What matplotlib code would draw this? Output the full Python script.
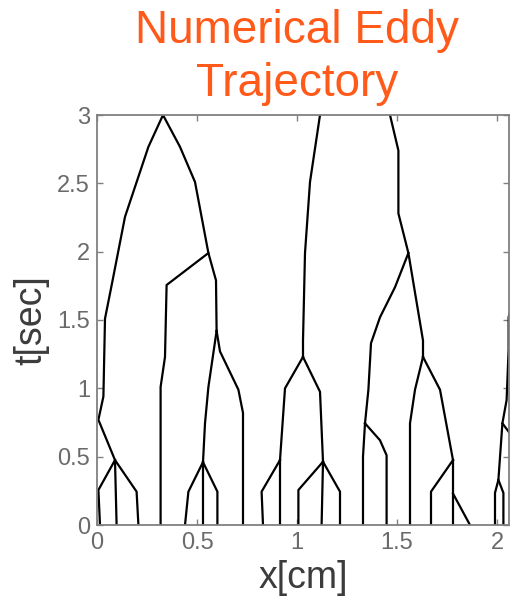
import matplotlib
matplotlib.use('Agg')
import matplotlib.pyplot as plt

plt.rcParams['font.family'] = ['Liberation Sans', 'DejaVu Sans']

# eddy paths, each as (x [cm], t [sec]) vertices; grouped by merger tree
tree_a = [
    [(0.207, 0), (0.198, 0.244), (0.09, 0.475), (0.007, 0.77), (0.032, 0.94),
     (0.04, 1.51), (0.078, 1.79), (0.14, 2.255), (0.257, 2.767), (0.33, 3.0)],
    [(0.015, 0), (0.007, 0.256), (0.09, 0.475)],
    [(0.098, 0), (0.09, 0.475)],
    [(0.33, 3.0), (0.415, 2.767), (0.49, 2.51), (0.557, 1.99), (0.595, 1.79), (0.598, 1.42)],
    [(0.318, 0), (0.318, 1.01), (0.34, 1.23), (0.348, 1.756), (0.557, 1.99)],
    [(0.598, 1.42), (0.557, 1.01), (0.54, 0.744), (0.53, 0.46)],
    [(0.598, 1.42), (0.615, 1.27), (0.707, 0.99), (0.73, 0.82), (0.73, 0)],
    [(0.44, 0), (0.457, 0.244), (0.53, 0.46)],
    [(0.53, 0), (0.53, 0.46)],
    [(0.602, 0), (0.602, 0.244), (0.53, 0.46)],
]

tree_b = [
    [(1.115, 3.0), (1.065, 2.51), (1.04, 1.99), (1.03, 1.35), (1.03, 1.23)],
    [(1.03, 1.23), (0.94, 1.0), (0.915, 0.475)],
    [(1.03, 1.23), (1.115, 0.975), (1.13, 0.463)],
    [(0.83, 0), (0.823, 0.244), (0.915, 0.475)],
    [(0.915, 0), (0.915, 0.475)],
    [(1.007, 0), (1.007, 0.256), (1.13, 0.463)],
    [(1.123, 0), (1.13, 0.463)],
    [(1.215, 0), (1.215, 0.244), (1.13, 0.463)],
]

tree_c = [
    [(1.465, 3.0), (1.507, 2.74), (1.507, 2.28), (1.557, 1.99), (1.63, 1.35), (1.63, 1.23)],
    [(1.557, 1.99), (1.49, 1.74), (1.415, 1.52), (1.37, 1.33), (1.357, 0.99), (1.34, 0.744)],
    [(1.33, 0), (1.33, 0.5), (1.34, 0.744)],
    [(1.34, 0.744), (1.415, 0.62), (1.448, 0.51), (1.448, 0)],
    [(1.63, 1.23), (1.59, 0.99), (1.565, 0.744), (1.565, 0)],
    [(1.63, 1.23), (1.715, 0.99), (1.78, 0.475)],
    [(1.67, 0), (1.67, 0.244), (1.78, 0.475)],
    [(1.78, 0), (1.78, 0.475)],
    [(1.865, 0), (1.78, 0.23)],
]

tree_d = [
    [(2.09, 1.7), (2.058, 1.52), (2.058, 1.28), (2.048, 0.914), (2.027, 0.744),
     (2.007, 0.33), (1.99, 0.235), (1.99, 0)],
    [(2.027, 0.744), (2.08, 0.64)],
    [(2.007, 0.33), (2.032, 0.235), (2.032, 0)],
]

x_ticks = [0, 0.5, 1, 1.5, 2]
x_ticklabels = ['0', '0.5', '1', '1.5', '2']
t_ticks = [0, 0.5, 1, 1.5, 2, 2.5, 3]
t_ticklabels = ['0', '0.5', '1', '1.5', '2', '2.5', '3']

fig = plt.figure(figsize=(5.11, 5.99), dpi=100)
ax = fig.add_axes([97 / 511, 1 - 525 / 599, 412 / 511, 410 / 599])

for tree in (tree_a, tree_b, tree_c, tree_d):
    for path in tree:
        xs = [p[0] for p in path]
        ts = [p[1] for p in path]
        ax.plot(xs, ts, color='black', lw=1.6, solid_joinstyle='round')

ax.set_xlim(0, 2.06)
ax.set_ylim(0, 3)
ax.set_xticks(x_ticks)
ax.set_xticklabels(x_ticklabels)
ax.set_yticks(t_ticks)
ax.set_yticklabels(t_ticklabels)

for s in ax.spines.values():
    s.set_color('#808080')
    s.set_linewidth(1.3)
ax.tick_params(direction='in', length=4, width=1, color='#808080',
               top=True, right=True, labelsize=17, labelcolor='#6a6a6a', pad=5)

ax.set_xlabel('x[cm]', fontsize=27, color='#3c3c3c', labelpad=4)
ax.set_ylabel('t[sec]', fontsize=27, color='#3c3c3c', labelpad=6)

fig.text(0.582, 1 - 9 / 599, 'Numerical Eddy\nTrajectory', ha='center', va='top',
         fontsize=33, color='#ff5a1a', linespacing=1.25)

fig.savefig('out.png', dpi=100)
